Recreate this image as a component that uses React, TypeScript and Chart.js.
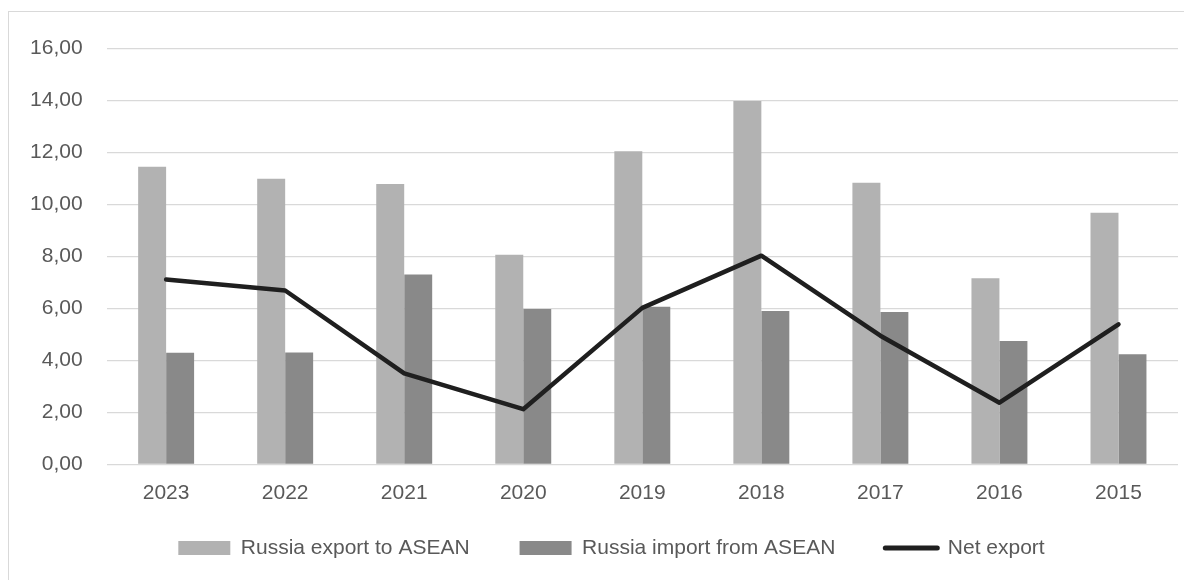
import React, { useEffect, useRef } from "react";
import { Chart, registerables } from "chart.js";

Chart.register(...registerables);

const categories = ["2023", "2022", "2021", "2020", "2019", "2018", "2017", "2016", "2015"];
const exportValues = [11.45, 10.99, 10.79, 8.07, 12.05, 13.98, 10.84, 7.16, 9.68];
const importValues = [4.29, 4.3, 7.31, 5.98, 6.06, 5.9, 5.86, 4.75, 4.24];
const netExport = [7.11, 6.69, 3.5, 2.12, 6.02, 8.03, 4.95, 2.37, 5.39];
const seriesNames = ["Russia export to ASEAN", "Russia import from ASEAN", "Net export"];

const EXPORT_COLOR = "#b2b2b2";
const IMPORT_COLOR = "#898989";
const LINE_COLOR = "#1f1f1f";
const TEXT_COLOR = "#595959";
const GRID_COLOR = "#d9d9d9";
const FONT = "'Liberation Sans', Arial, sans-serif";

// moves the legend into place after Chart.js has laid out the boxes
const legendShift = {
  id: "legendShift",
  afterLayout(chart: any) {
    const lg = chart.legend;
    if (!lg) return;
    const dy = -18.8;
    const dx = 18;
    lg.top += dy;
    lg.height -= dy;
    lg.left += dx;
    lg.right += dx;
    if (lg.legendHitBoxes) {
      lg.legendHitBoxes.forEach((h: any) => {
        h.top += dy;
        h.left += dx;
      });
    }
  },
};

export default function App() {
  const ref = useRef<HTMLCanvasElement | null>(null);

  useEffect(() => {
    if (!ref.current) return;
    const chart = new Chart(ref.current, {
      type: "bar",
      data: {
        labels: categories,
        datasets: [
          {
            type: "bar",
            label: seriesNames[0],
            data: exportValues,
            backgroundColor: EXPORT_COLOR,
            order: 1,
            categoryPercentage: 0.47,
            barPercentage: 1.0,
          },
          {
            type: "bar",
            label: seriesNames[1],
            data: importValues,
            backgroundColor: IMPORT_COLOR,
            order: 1,
            categoryPercentage: 0.47,
            barPercentage: 1.0,
          },
          {
            type: "line",
            label: seriesNames[2],
            data: netExport,
            borderColor: LINE_COLOR,
            backgroundColor: LINE_COLOR,
            borderWidth: 4.5,
            pointRadius: 0,
            tension: 0,
            borderCapStyle: "round",
            borderJoinStyle: "round",
            order: 0,
          },
        ] as any,
      },
      plugins: [legendShift],
      options: {
        responsive: false,
        animation: false,
        devicePixelRatio: 1,
        layout: { padding: { left: 0, right: 14, top: 28.7, bottom: 11.7 } },
        font: { family: FONT, size: 21 },
        plugins: {
          tooltip: { enabled: false },
          legend: {
            display: true,
            position: "bottom",
            maxHeight: 62,
            labels: {
              color: TEXT_COLOR,
              font: { family: FONT, size: 21 },
              usePointStyle: true,
              pointStyleWidth: 52,
              boxHeight: 14,
              padding: 50,
              generateLabels: () => [
                {
                  text: seriesNames[0],
                  fillStyle: EXPORT_COLOR,
                  strokeStyle: EXPORT_COLOR,
                  lineWidth: 0,
                  pointStyle: "rect",
                  hidden: false,
                  datasetIndex: 0,
                  fontColor: TEXT_COLOR,
                },
                {
                  text: seriesNames[1],
                  fillStyle: IMPORT_COLOR,
                  strokeStyle: IMPORT_COLOR,
                  lineWidth: 0,
                  pointStyle: "rect",
                  hidden: false,
                  datasetIndex: 1,
                  fontColor: TEXT_COLOR,
                },
                {
                  text: seriesNames[2],
                  fillStyle: LINE_COLOR,
                  strokeStyle: LINE_COLOR,
                  lineWidth: 5,
                  lineCap: "round",
                  pointStyle: "line",
                  hidden: false,
                  datasetIndex: 2,
                  fontColor: TEXT_COLOR,
                } as any,
              ],
            },
          },
        },
        scales: {
          x: {
            grid: { display: false, drawTicks: false },
            border: { display: false },
            ticks: {
              color: TEXT_COLOR,
              font: { family: FONT, size: 21 },
              padding: 16,
              maxRotation: 0,
              minRotation: 0,
            },
            afterFit: (scale: any) => {
              scale.height = 42;
            },
          },
          y: {
            min: 0,
            max: 16,
            grid: { color: GRID_COLOR, lineWidth: 1.3, drawTicks: false },
            border: { display: false },
            ticks: {
              stepSize: 2,
              color: TEXT_COLOR,
              font: { family: FONT, size: 21 },
              padding: 24,
              callback: (v: any) => Number(v).toFixed(2).replace(".", ","),
            },
            afterFit: (scale: any) => {
              scale.width = 97.6;
            },
          },
        },
      },
    });
    return () => chart.destroy();
  }, []);

  return (
    <div style={{ paddingTop: 3 }}>
      <div
        style={{
          borderTop: `1px solid ${GRID_COLOR}`,
          borderLeft: `1px solid ${GRID_COLOR}`,
          width: 1184,
          height: 569,
          boxSizing: "border-box",
          background: "#fff",
        }}
      >
        <canvas ref={ref} width={1183} height={568} style={{ display: "block" }} />
      </div>
    </div>
  );
}
